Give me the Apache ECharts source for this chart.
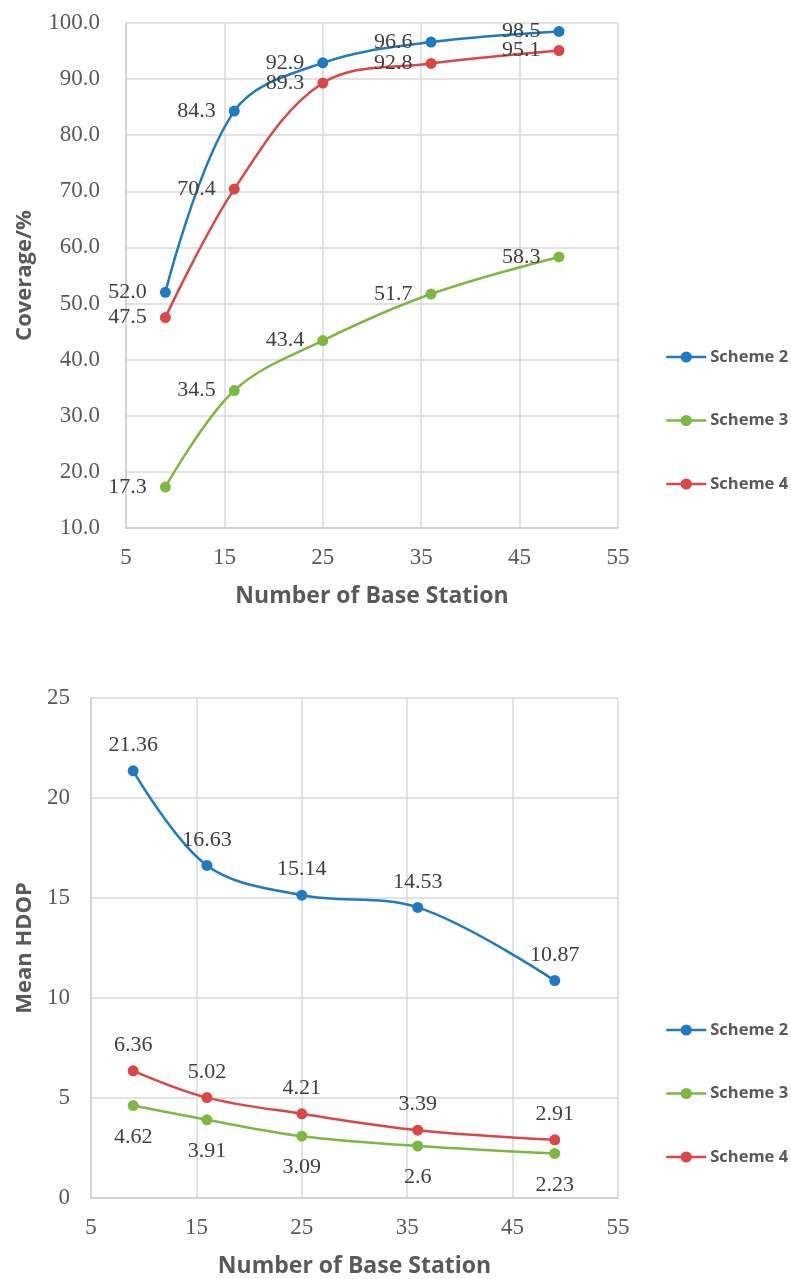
<!DOCTYPE html>
<html>
<head>
<meta charset="utf-8">
<script src="https://cdn.jsdelivr.net/npm/echarts@6/dist/echarts.min.js"></script>
<style>
  html, body { margin: 0; padding: 0; background: #fff; }
  #chart { width: 791px; height: 1279px; }
</style>
</head>
<body>
<div id="chart"></div>
<script>
// Number of base stations (shared x values)
const stations = [9, 16, 25, 36, 49];

// Coverage (%) per scheme
const coverage2 = [52.0, 84.3, 92.9, 96.6, 98.5];
const coverage3 = [17.3, 34.5, 43.4, 51.7, 58.3];
const coverage4 = [47.5, 70.4, 89.3, 92.8, 95.1];

// Mean HDOP per scheme
const hdop2 = [21.36, 16.63, 15.14, 14.53, 10.87];
const hdop3 = [4.62, 3.91, 3.09, 2.6, 2.23];
const hdop4 = [6.36, 5.02, 4.21, 3.39, 2.91];

const schemeNames = ['Scheme 2', 'Scheme 3', 'Scheme 4'];
const colors = { 'Scheme 2': '#1f7bc1', 'Scheme 3': '#7db843', 'Scheme 4': '#dd4646' };

const serif = '"Liberation Serif", "Times New Roman", serif';
const sans = '"Open Sans", "Noto Sans", sans-serif';
const gridColor = '#d9d9d9';

function pairs(values) {
  return stations.map((x, i) => [x, values[i]]);
}

function makeSeries(name, values, gridIdx, labelPos, labelDist, decimals) {
  return {
    name: name,
    type: 'line',
    xAxisIndex: gridIdx,
    yAxisIndex: gridIdx,
    data: pairs(values),
    smooth: 0.35,
    symbol: 'circle',
    symbolSize: 11,
    color: colors[name],
    lineStyle: { width: 2.5, color: colors[name] },
    itemStyle: { color: colors[name] },
    label: {
      show: true,
      position: labelPos,
      distance: labelDist,
      fontFamily: serif,
      fontSize: 22,
      color: '#404040',
      formatter: p => decimals === null ? String(p.value[1]) : p.value[1].toFixed(decimals)
    },
    z: 3
  };
}

function xAxisFor(gridIdx, nameGap) {
  return {
    gridIndex: gridIdx,
    type: 'value',
    min: 5, max: 55, interval: 10,
    name: 'Number of Base Station',
    nameLocation: 'middle',
    nameGap: nameGap,
    nameTextStyle: { fontFamily: sans, fontWeight: 'bold', fontSize: 23, color: '#595959' },
    axisLine: { show: true, lineStyle: { color: '#cfcfcf', width: 1.5 } },
    axisTick: { show: false },
    splitLine: { show: true, lineStyle: { color: gridColor, width: 1.5 } },
    axisLabel: { fontFamily: serif, fontSize: 23, color: '#595959', margin: 18 }
  };
}

function yAxisFor(gridIdx, opts) {
  return Object.assign({
    gridIndex: gridIdx,
    type: 'value',
    nameLocation: 'middle',
    nameRotate: 90,
    nameTextStyle: { fontFamily: sans, fontWeight: 'bold', fontSize: 22, color: '#595959' },
    axisLine: { show: true, lineStyle: { color: '#cfcfcf', width: 1.5 } },
    axisTick: { show: false },
    splitLine: { show: true, lineStyle: { color: gridColor, width: 1.5 } }
  }, opts);
}

function legendFor(top) {
  return {
    orient: 'vertical',
    left: 665,
    top: top,
    padding: 0,
    itemWidth: 40,
    itemHeight: 14,
    itemGap: 43.5,
    data: schemeNames,
    lineStyle: { width: 2.5 },
    textStyle: { fontFamily: sans, fontWeight: 'bold', fontSize: 16.5, color: '#595959', lineHeight: 20, padding: [0, 0, 0, -1] },
    selectedMode: false
  };
}

const option = {
  backgroundColor: '#fff',
  animation: false,
  grid: [
    { left: 126, right: 173, top: 23, height: 505 },
    { left: 91, right: 173, top: 698, height: 503 }
  ],
  xAxis: [xAxisFor(0, 57), xAxisFor(1, 57)],
  yAxis: [
    yAxisFor(0, {
      min: 10, max: 100, interval: 10,
      name: 'Coverage/%', nameGap: 90,
      axisLabel: { fontFamily: serif, fontSize: 23, color: '#595959', margin: 26, formatter: v => v.toFixed(1) }
    }),
    yAxisFor(1, {
      min: 0, max: 25, interval: 5,
      name: 'Mean HDOP', nameGap: 52,
      axisLabel: { fontFamily: serif, fontSize: 23, color: '#595959', margin: 21 }
    })
  ],
  legend: [legendFor(347), legendFor(1020)],
  series: [
    makeSeries('Scheme 2', coverage2, 0, 'left', 13, 1),
    makeSeries('Scheme 3', coverage3, 0, 'left', 13, 1),
    makeSeries('Scheme 4', coverage4, 0, 'left', 13, 1),
    makeSeries('Scheme 2', hdop2, 1, 'top', 9, null),
    makeSeries('Scheme 3', hdop3, 1, 'bottom', 15, null),
    makeSeries('Scheme 4', hdop4, 1, 'top', 9, null)
  ]
};

const chart = echarts.init(document.getElementById('chart'), null, { renderer: 'canvas' });
chart.setOption(option);
</script>
</body>
</html>
